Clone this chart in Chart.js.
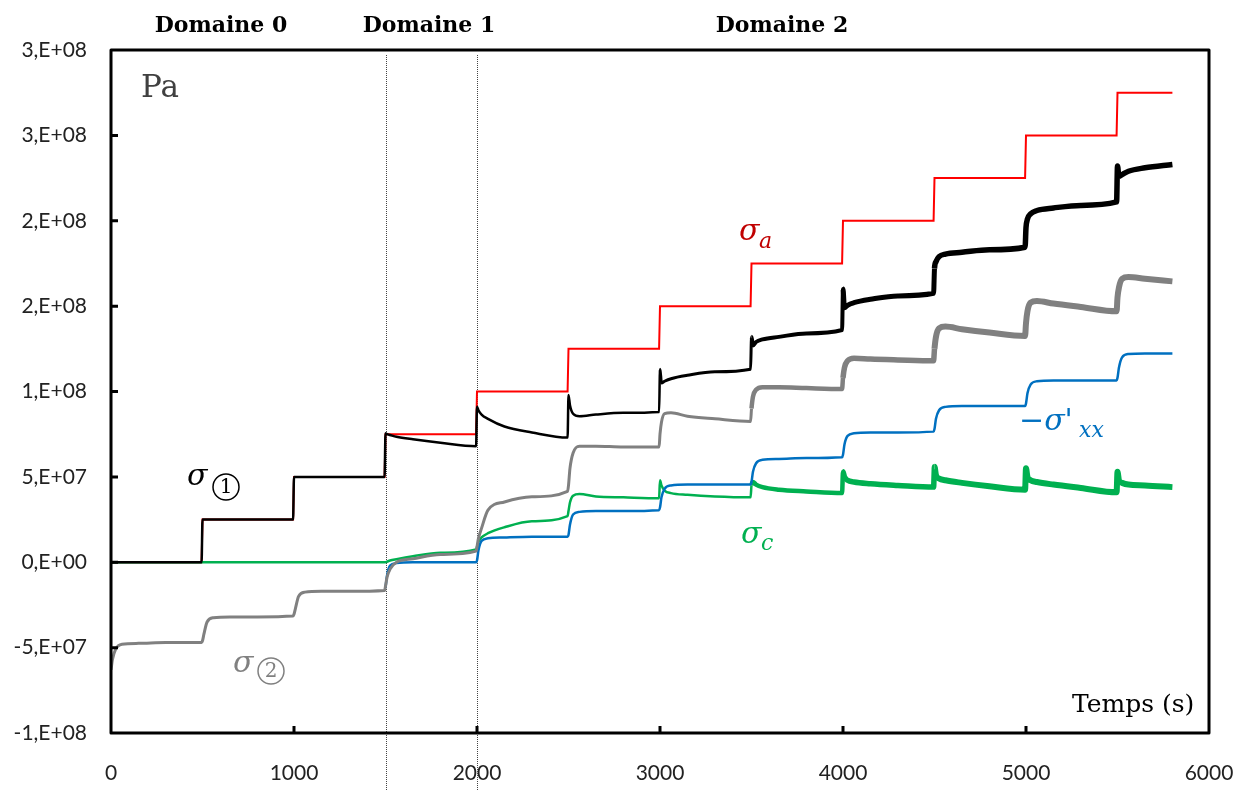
<!DOCTYPE html>
<html>
<head>
<meta charset="utf-8">
<script src="https://cdn.jsdelivr.net/npm/chart.js@4"></script>
<style>
  html, body { margin: 0; padding: 0; background: #fff; }
  canvas { display: block; }
</style>
</head>
<body>
<canvas id="contraintes" width="1245" height="791"></canvas>
<script>
// temps (s) : 7 points par palier de 500 s
const temps = [
  0, 8, 25, 60, 150, 300, 495,
  500, 508, 525, 560, 650, 800, 995,
  1000, 1008, 1025, 1060, 1150, 1300, 1495,
  1500, 1508, 1525, 1560, 1650, 1800, 1995,
  2000, 2008, 2025, 2060, 2150, 2300, 2495,
  2500, 2508, 2525, 2560, 2650, 2800, 2995,
  3000, 3008, 3025, 3060, 3150, 3300, 3495,
  3500, 3508, 3525, 3560, 3650, 3800, 3995,
  4000, 4008, 4025, 4060, 4150, 4300, 4495,
  4500, 4508, 4525, 4560, 4650, 4800, 4995,
  5000, 5008, 5025, 5060, 5150, 5300, 5495,
  5500, 5508, 5525, 5560, 5650, 5800
];

// valeurs en MPa (1e6 Pa)
const sigmaA = [
  0, 0, 0, 0, 0, 0, 0,
  25, 25, 25, 25, 25, 25, 25,
  50, 50, 50, 50, 50, 50, 50,
  75, 75, 75, 75, 75, 75, 75,
  100, 100, 100, 100, 100, 100, 100,
  125, 125, 125, 125, 125, 125, 125,
  150, 150, 150, 150, 150, 150, 150,
  175, 175, 175, 175, 175, 175, 175,
  200, 200, 200, 200, 200, 200, 200,
  225, 225, 225, 225, 225, 225, 225,
  250, 250, 250, 250, 250, 250, 250,
  275, 275, 275, 275, 275, 275
];

const sigma1 = [
  0, 0, 0, 0, 0, 0, 0,
  25, 25, 25, 25, 25, 25, 25,
  50, 50, 50, 50, 50, 50, 50,
  75.5, 75, 74.5, 73.5, 72, 70, 68,
  91, 89, 86.5, 84, 79.5, 76, 73,
  98, 92, 87, 85.5, 86.5, 87.5, 88,
  113, 105, 106, 107.5, 109.5, 111.5, 113,
  132, 127, 129, 130.5, 132, 134, 136,
  160, 149, 150.5, 152, 154, 156, 157.5,
  172, 176, 179, 180.5, 181.5, 183, 184.5,
  196, 201, 204, 206, 207.5, 209, 211,
  232, 226, 227, 229, 231, 233
];

const sigma2 = [
  -63, -57, -51, -48, -47.5, -47, -47,
  -46, -42, -35, -32.5, -32, -32, -31.5,
  -30.5, -27, -20, -17.5, -17, -17, -16.5,
  -14, -9, -4, 0, 2, 4.5, 6.5,
  9, 14, 20, 30.5, 35.3, 38.3, 41.5,
  45, 55, 64, 68, 68, 67.5, 67.5,
  75, 82, 87, 87.5, 85.5, 84, 82.5,
  90, 97, 101, 102.5, 102.5, 102, 101.5,
  108, 114, 118, 119.5, 119, 118.5, 118,
  125, 132, 137, 138, 136.5, 134.5, 132.5,
  140, 147, 152, 153, 151.5, 149.5, 147,
  155, 161, 166, 167, 166, 164.5
];

const sigmaXX = [
  null, null, null, null, null, null, null,
  null, null, null, null, null, null, null,
  null, null, null, null, null, null, null,
  -15, -8, -2, -0.5, 0, 0, 0,
  1, 7, 12.5, 14, 14.5, 15, 15,
  16, 22, 28, 29.5, 30, 30, 30.5,
  32, 38, 43, 45, 45.5, 45.5, 45.5,
  47, 53, 58, 60, 60.5, 61, 61.5,
  63, 69, 74, 75.5, 76, 76, 76.5,
  78, 84, 89, 91, 91.5, 91.5, 91.5,
  93, 99, 104, 106, 106.5, 106.5, 106.5,
  108, 114, 120, 122, 122.3, 122.3
];

const sigmaC = [
  0, 0, 0, 0, 0, 0, 0,
  0, 0, 0, 0, 0, 0, 0,
  0, 0, 0, 0, 0, 0, 0,
  0, 0.3, 1, 1.8, 3.5, 5.5, 7.5,
  9, 12, 14.5, 17, 20.5, 24, 27,
  30, 35, 39, 40, 38.5, 38, 37.5,
  48, 45, 42, 40.5, 39.5, 38.5, 38,
  45, 47, 45.5, 44, 42.5, 41.5, 40.5,
  53, 50, 48, 47, 46, 45, 44,
  56, 51, 49, 48, 46.5, 44.5, 42.5,
  55, 50, 48, 47, 45.5, 43.5, 41,
  53, 48, 46.5, 45.5, 45, 44
];

const yTickLabels = ['-1,E+08', '-5,E+07', '0,E+00', '5,E+07', '1,E+08', '2,E+08', '2,E+08', '3,E+08', '3,E+08'];
const domaines = ['Domaine 0', 'Domaine 1', 'Domaine 2'];
const limitesDomaines = [1500, 2000];

function points(serie) {
  return temps.map((t, i) => ({ x: t, y: serie[i] }));
}

// épaisseur croissante (oscillations) dans le domaine 2
function epaisseur(paliers) {
  return ctx => {
    const t = ctx.p0.parsed.x;
    let w = paliers[0][1];
    paliers.forEach(p => { if (t >= p[0]) w = p[1]; });
    return w;
  };
}

const habillage = {
  id: 'habillage',
  beforeDatasetsDraw(chart) {
    const { ctx, scales: { x } } = chart;
    ctx.save();
    ctx.strokeStyle = '#444';
    ctx.lineWidth = 1;
    ctx.setLineDash([1, 1]);
    limitesDomaines.forEach(t => {
      const px = Math.round(x.getPixelForValue(t)) + 0.5;
      ctx.beginPath();
      ctx.moveTo(px, 55);
      ctx.lineTo(px, 791);
      ctx.stroke();
    });
    ctx.restore();
  },
  afterDraw(chart) {
    const { ctx, chartArea: a, scales: { x, y } } = chart;
    ctx.save();
    // cadre
    ctx.strokeStyle = '#000';
    ctx.lineWidth = 3;
    ctx.lineJoin = 'round';
    ctx.strokeRect(a.left, a.top, a.right - a.left, a.bottom - a.top);
    // graduations intérieures
    ctx.beginPath();
    for (let v = -50; v < 300; v += 50) {
      const py = y.getPixelForValue(v);
      ctx.moveTo(a.left, py);
      ctx.lineTo(a.left + 7, py);
    }
    for (let t = 1000; t < 6000; t += 1000) {
      const px = x.getPixelForValue(t);
      ctx.moveTo(px, a.bottom);
      ctx.lineTo(px, a.bottom - 7);
    }
    ctx.stroke();

    // domaines
    ctx.fillStyle = '#000';
    ctx.font = 'bold 22px "DejaVu Serif"';
    ctx.textAlign = 'center';
    ctx.textBaseline = 'alphabetic';
    [221, 429, 782].forEach((px, i) => ctx.fillText(domaines[i], px, 32));

    // unités
    ctx.textAlign = 'left';
    ctx.fillStyle = '#404040';
    ctx.font = '31px "DejaVu Serif"';
    ctx.fillText('Pa', 141, 97);
    ctx.fillStyle = '#000';
    ctx.font = '25px "DejaVu Serif"';
    ctx.fillText('Temps (s)', 1072, 712);

    // étiquettes des courbes
    const sigma = (txt, px, py, col, size) => {
      ctx.fillStyle = col;
      ctx.font = 'italic ' + (size || 30) + 'px "DejaVu Serif"';
      ctx.fillText(txt, px, py);
    };
    const cercle = (chiffre, cx, cy, col) => {
      ctx.strokeStyle = col;
      ctx.lineWidth = 1.5;
      ctx.beginPath();
      ctx.arc(cx, cy, 13, 0, 2 * Math.PI);
      ctx.stroke();
      ctx.fillStyle = col;
      ctx.font = '20px "DejaVu Serif"';
      ctx.textAlign = 'center';
      ctx.textBaseline = 'middle';
      ctx.fillText(chiffre, cx, cy + 1);
      ctx.textAlign = 'left';
      ctx.textBaseline = 'alphabetic';
    };
    sigma('σ', 187, 485, '#000');
    cercle('1', 226, 487, '#000');
    sigma('σ', 233, 672, '#808080');
    cercle('2', 271, 671, '#808080');
    sigma('σ', 739, 240, '#C00000');
    sigma('a', 759, 248, '#C00000', 22);
    sigma('σ', 741, 543, '#00B050');
    sigma('c', 761, 550, '#00B050', 22);
    sigma("−σ'", 1019, 430, '#0070C0');
    sigma('xx', 1079, 437, '#0070C0', 22);
    ctx.restore();
  }
};

const policeTicks = { family: 'Lato, sans-serif', size: 21 };

new Chart(document.getElementById('contraintes'), {
  type: 'line',
  data: {
    datasets: [
      {
        label: 'σ1', data: points(sigma1), borderColor: '#000', borderWidth: 2.5,
        cubicInterpolationMode: 'monotone',
        segment: { borderWidth: epaisseur([[0, 2.5], [3000, 3], [3500, 4], [4000, 5], [4500, 5.5]]) }
      },
      {
        label: 'σ2', data: points(sigma2), borderColor: '#808080', borderWidth: 3,
        cubicInterpolationMode: 'monotone',
        segment: { borderWidth: epaisseur([[0, 3], [3500, 4.5], [4000, 5.5], [4500, 6]]) }
      },
      {
        label: '-σxx', data: points(sigmaXX), borderColor: '#0070C0', borderWidth: 2.5,
        cubicInterpolationMode: 'monotone'
      },
      {
        label: 'σc', data: points(sigmaC), borderColor: '#00B050', borderWidth: 2.5,
        cubicInterpolationMode: 'monotone',
        segment: { borderWidth: epaisseur([[0, 2.5], [3500, 4.5], [4000, 5.5], [4500, 6]]) }
      },
      {
        label: 'σa', data: points(sigmaA), borderColor: '#FF0000', borderWidth: 2,
        tension: 0
      }
    ]
  },
  options: {
    responsive: false,
    devicePixelRatio: 1,
    animation: false,
    layout: { padding: { top: 50, right: 36, left: 0, bottom: 0 } },
    elements: { point: { radius: 0 } },
    plugins: { legend: { display: false }, tooltip: { enabled: false } },
    scales: {
      x: {
        type: 'linear', min: 0, max: 6000,
        grid: { display: false, drawTicks: false },
        border: { display: false },
        ticks: {
          stepSize: 1000, font: policeTicks, color: '#222', padding: 28, maxRotation: 0,
          callback: v => String(v)
        },
        afterFit(scale) {
          scale.height = 58;
          scale.paddingLeft = 0;
          scale.paddingRight = 0;
        }
      },
      y: {
        min: -100, max: 300,
        grid: { display: false, drawTicks: false },
        border: { display: false },
        ticks: {
          stepSize: 50, font: policeTicks, color: '#222', padding: 24,
          callback: (v, i) => yTickLabels[i]
        },
        afterFit(scale) {
          scale.width = 111;
          scale.paddingTop = 0;
          scale.paddingBottom = 0;
        }
      }
    }
  },
  plugins: [habillage]
});
</script>
</body>
</html>
